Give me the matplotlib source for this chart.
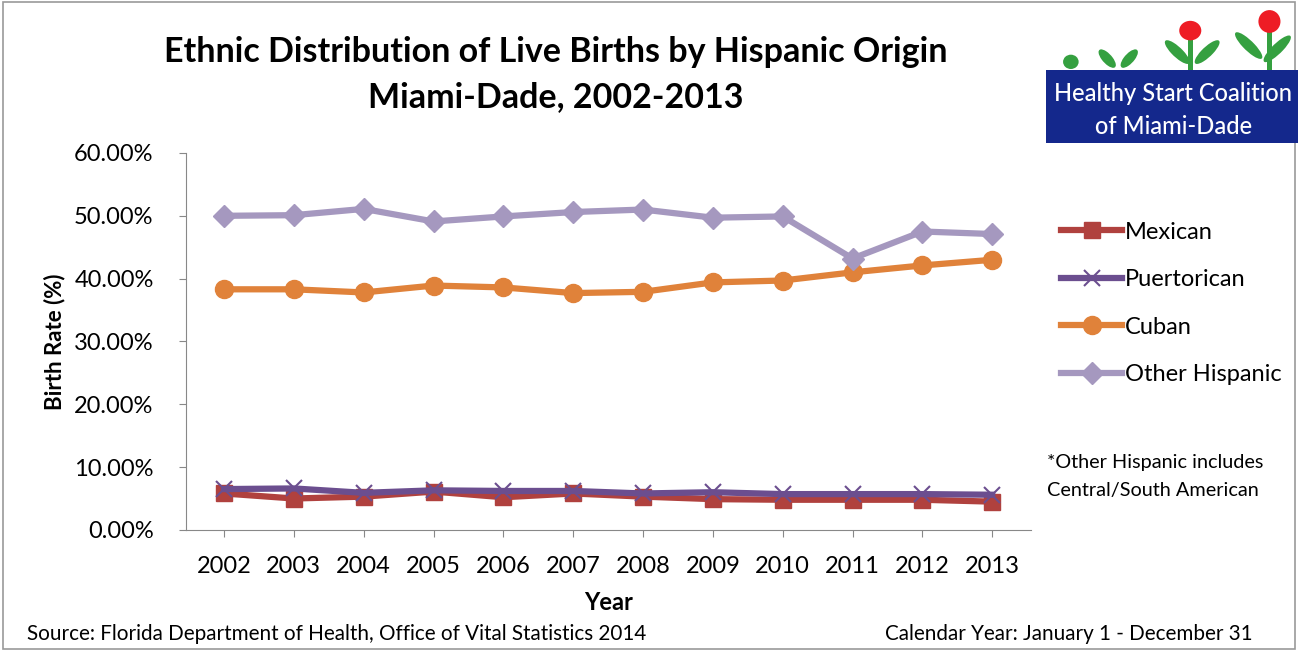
import matplotlib
matplotlib.use("Agg")
import matplotlib.pyplot as plt
from matplotlib.patches import Rectangle, Ellipse
from matplotlib.ticker import FuncFormatter

plt.rcParams['font.family'] = ['Lato', 'DejaVu Sans']

years = ['2002', '2003', '2004', '2005', '2006', '2007', '2008', '2009', '2010', '2011', '2012', '2013']
mexican = [5.8, 5.0, 5.3, 6.1, 5.2, 5.8, 5.3, 4.9, 4.8, 4.8, 4.8, 4.5]
puertorican = [6.5, 6.6, 5.9, 6.3, 6.2, 6.2, 5.8, 6.0, 5.7, 5.7, 5.7, 5.6]
cuban = [38.3, 38.3, 37.8, 38.9, 38.6, 37.7, 37.9, 39.4, 39.7, 41.0, 42.1, 43.0]
other_hispanic = [50.0, 50.1, 51.1, 49.1, 49.9, 50.6, 51.0, 49.7, 49.9, 43.2, 47.5, 47.1]

fig = plt.figure(figsize=(12.98, 6.51), dpi=100)
ax = fig.add_axes([0.143, 0.186, 0.651, 0.579])

x = range(len(years))
ax.plot(x, mexican, color='#B0413E', lw=4.5, marker='s', ms=11, label='Mexican')
ax.plot(x, puertorican, color='#6B4E8F', lw=4.5, marker='x', ms=11, mew=1.5, label='Puertorican')
ax.plot(x, cuban, color='#E0823A', lw=4.5, marker='o', ms=13, label='Cuban')
ax.plot(x, other_hispanic, color='#A598BF', lw=4.5, marker='D', ms=11, label='Other Hispanic')

ax.set_xlim(-0.55, len(years) - 0.45)
ax.set_ylim(0, 60)
ax.set_yticks(range(0, 61, 10))
ax.yaxis.set_major_formatter(FuncFormatter(lambda v, p: '%.2f%%' % v))
ax.set_xticks(x)
ax.set_xticklabels(years)
ax.tick_params(labelsize=17, length=5, color='#888888')
ax.tick_params(axis='x', pad=14)
ax.tick_params(axis='y', pad=18)
for s in ['top', 'right']:
    ax.spines[s].set_visible(False)
for s in ['left', 'bottom']:
    ax.spines[s].set_color('#888888')
ax.set_xlabel('Year', fontsize=17, fontweight='bold', labelpad=10)
ax.set_ylabel('Birth Rate (%)', fontsize=16, fontweight='bold', labelpad=6)

fig.text(0.428, 0.92, 'Ethnic Distribution of Live Births by Hispanic Origin', fontsize=24.5,
         fontweight='bold', ha='center', va='center')
fig.text(0.428, 0.851, 'Miami-Dade, 2002-2013', fontsize=24.5, fontweight='bold', ha='center', va='center')

leg = fig.legend(loc='upper left', bbox_to_anchor=(0.801, 0.692), frameon=False, fontsize=17,
                 handlelength=2.6, handletextpad=0.1, labelspacing=1.12)

fig.text(0.807, 0.268, '*Other Hispanic includes\nCentral/South American', fontsize=14.3,
         ha='left', va='center', linespacing=1.75)
fig.text(0.021, 0.026, 'Source: Florida Department of Health, Office of Vital Statistics 2014',
         fontsize=14.9, ha='left', va='center')
fig.text(0.965, 0.026, 'Calendar Year: January 1 - December 31', fontsize=14.9, ha='right', va='center')

# figure border
fig.patches.append(Rectangle((0.002, 0.003), 0.996, 0.994, transform=fig.transFigure,
                             fill=False, ec='#999999', lw=1.2))

# logo
fig.patches.append(Rectangle((0.806, 0.78), 0.194, 0.112, transform=fig.transFigure,
                             fc='#14288C', ec='none'))
fig.text(0.904, 0.857, 'Healthy Start Coalition', fontsize=17, color='white', ha='center',
         va='center', fontweight='medium')
fig.text(0.904, 0.806, 'of Miami-Dade', fontsize=17, color='white', ha='center', va='center',
         fontweight='medium')
green = '#35A040'
for ex, ey, w, h, ang in [(0.825, 0.905, 0.012, 0.022, 0),
                          (0.853, 0.91, 0.009, 0.03, 20), (0.87, 0.91, 0.009, 0.03, -20),
                          (0.907, 0.92, 0.01, 0.04, 25), (0.93, 0.92, 0.01, 0.04, -25),
                          (0.962, 0.93, 0.01, 0.045, 25), (0.984, 0.925, 0.01, 0.045, -25)]:
    fig.patches.append(Ellipse((ex, ey), w, h, angle=ang, transform=fig.transFigure, fc=green, ec='none'))
fig.patches.append(Rectangle((0.915, 0.892), 0.004, 0.06, transform=fig.transFigure, fc=green, ec='none'))
fig.patches.append(Rectangle((0.976, 0.892), 0.004, 0.07, transform=fig.transFigure, fc=green, ec='none'))
fig.patches.append(Ellipse((0.917, 0.953), 0.017, 0.03, transform=fig.transFigure, fc='#EE1C25', ec='none'))
fig.patches.append(Ellipse((0.978, 0.967), 0.017, 0.035, transform=fig.transFigure, fc='#EE1C25', ec='none'))

fig.savefig('out.png', dpi=100)
